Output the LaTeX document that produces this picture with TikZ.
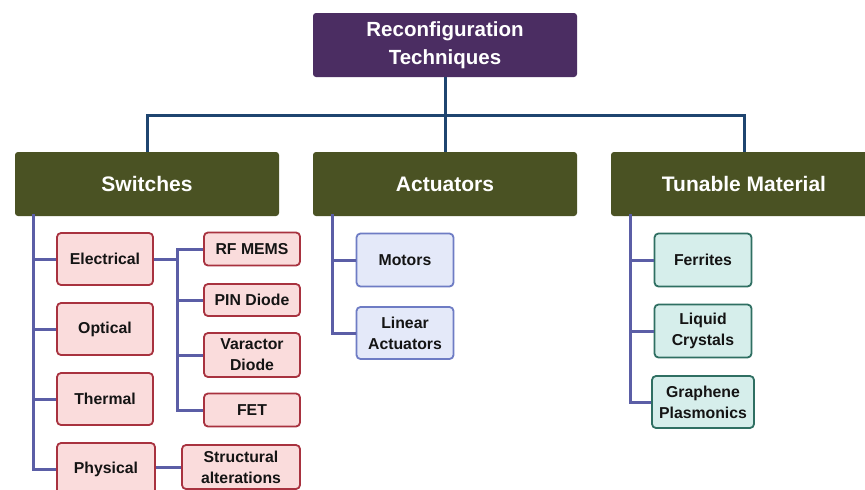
\documentclass[tikz,border=0pt]{standalone}
\usepackage{fontspec}
\setmainfont{Liberation Sans}
\definecolor{rootc}{HTML}{4B2D62}
\definecolor{headc}{HTML}{4A5223}
\definecolor{topln}{HTML}{1F4570}
\definecolor{subln}{HTML}{5B5EA6}
\definecolor{redf}{HTML}{FADCDC}
\definecolor{redd}{HTML}{A8323F}
\definecolor{bluef}{HTML}{E4E9F9}
\definecolor{blued}{HTML}{6E7CC4}
\definecolor{tealf}{HTML}{D6EEEB}
\definecolor{teald}{HTML}{2F6F62}
\tikzset{
  rootbox/.style={rectangle, rounded corners=3pt, fill=rootc, text=white, align=center,
    minimum width=264pt, minimum height=64pt, inner sep=0pt,
    font=\fontsize{20.5}{28}\selectfont\bfseries},
  headbox/.style={rectangle, rounded corners=3pt, fill=headc, text=white, align=center,
    minimum height=64pt, inner sep=0pt, font=\fontsize{21}{28}\selectfont\bfseries},
  leaf/.style={rectangle, rounded corners=4pt, line width=1.8pt, align=center, inner sep=0pt,
    text=black!92, font=\fontsize{15.8}{21}\selectfont\bfseries},
  redbox/.style={leaf, fill=redf, draw=redd},
  bluebox/.style={leaf, fill=bluef, draw=blued},
  tealbox/.style={leaf, fill=tealf, draw=teald},
  topline/.style={draw=topln, line width=3pt},
  subline/.style={draw=subln, line width=3pt},
}
\begin{document}
\begin{tikzpicture}[x=1pt, y=-1pt]
\useasboundingbox (0,0) rectangle (865,490);
\clip (0,0) rectangle (865,490);
\fill[white] (0,0) rectangle (865,490);

\coordinate (rj) at (445,115);
\coordinate (swt) at (33,214);
\coordinate (act) at (332,214);
\coordinate (tut) at (630,214);
\coordinate (ej) at (177,259);

\node[rootbox] (root) at (445,45) {Reconfiguration\\Techniques};
\node[headbox, minimum width=264pt] (sw) at (147,184) {Switches};
\node[headbox, minimum width=264pt] (ac) at (445,184) {Actuators};
\node[headbox, minimum width=266pt] (tu) at (744,184) {Tunable Material};

% leaves
\node[redbox, minimum width=96pt, minimum height=52pt] (elec) at (105,259) {Electrical};
\node[redbox, minimum width=96pt, minimum height=52pt] (opt) at (105,329) {Optical};
\node[redbox, minimum width=96pt, minimum height=52pt] (therm) at (105,399) {Thermal};
\node[redbox, minimum width=98pt, minimum height=52pt] (phys) at (106,469) {Physical};
\node[redbox, minimum width=96pt, minimum height=33pt] (rf) at (252,249) {RF MEMS};
\node[redbox, minimum width=96pt, minimum height=32pt] (pin) at (252,300) {PIN Diode};
\node[redbox, minimum width=96pt, minimum height=44pt] (var) at (252,355) {Varactor\\Diode};
\node[redbox, minimum width=96pt, minimum height=33pt] (fet) at (252,410) {FET};
\node[redbox, minimum width=118pt, minimum height=44pt] (str) at (241,467) {Structural\\alterations};

\node[bluebox, minimum width=97pt, minimum height=53pt] (mot) at (405,260) {Motors};
\node[bluebox, minimum width=97pt, minimum height=52pt] (lin) at (405,333) {Linear\\Actuators};

\node[tealbox, minimum width=97pt, minimum height=53pt] (fer) at (703,260) {Ferrites};
\node[tealbox, minimum width=97pt, minimum height=53pt] (liq) at (703,331) {Liquid\\Crystals};
\node[tealbox, minimum width=102pt, minimum height=52pt] (gra) at (703,402) {Graphene\\Plasmonics};

% connectors
\draw[topline] (root.south) -- (rj);
\draw[topline] (rj) -| (sw.north);
\draw[topline] (rj) -| (tu.north);
\draw[topline] (rj) -- (ac.north);

\draw[subline] (swt) |- (phys.west);
\draw[subline] (swt) |- (elec.west);
\draw[subline] (swt) |- (opt.west);
\draw[subline] (swt) |- (therm.west);

\draw[subline] (elec.east) -- (ej);
\draw[subline] (ej) |- (rf.west);
\draw[subline] (ej) |- (pin.west);
\draw[subline] (ej) |- (var.west);
\draw[subline] (ej) |- (fet.west);
\draw[subline] (phys.east |- str.west) -- (str.west);

\draw[subline] (act) |- (mot.west);
\draw[subline] (act) |- (lin.west);

\draw[subline] (tut) |- (fer.west);
\draw[subline] (tut) |- (liq.west);
\draw[subline] (tut) |- (gra.west);
\end{tikzpicture}
\end{document}
